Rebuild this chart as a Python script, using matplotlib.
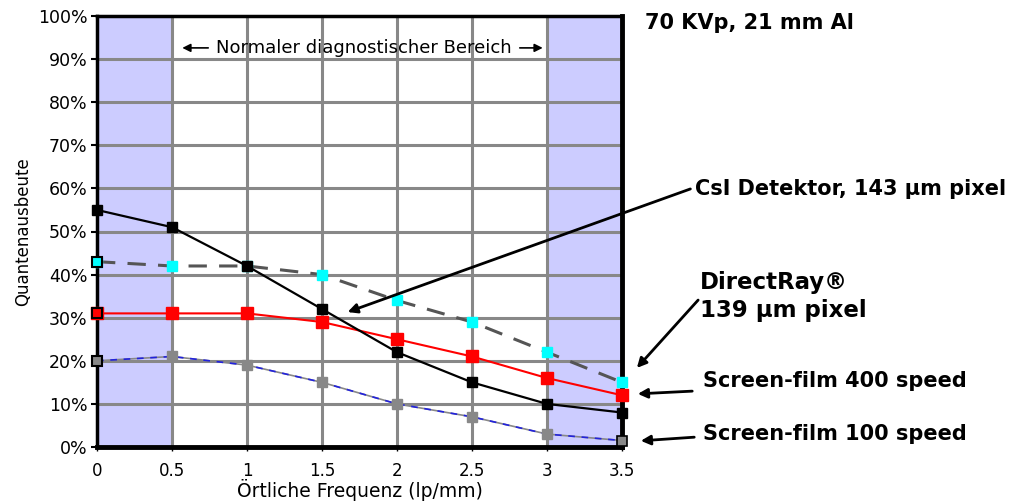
import matplotlib
matplotlib.use("Agg")
import matplotlib.pyplot as plt
from matplotlib.ticker import PercentFormatter

plt.rcParams['font.family'] = ['DejaVu Sans']

freq = [0, 0.5, 1, 1.5, 2, 2.5, 3, 3.5]
csi = [55, 51, 42, 32, 22, 15, 10, 8]
directray = [43, 42, 42, 40, 34, 29, 22, 15]
sf400 = [31, 31, 31, 29, 25, 21, 16, 12]
sf100 = [20, 21, 19, 15, 10, 7, 3, 1.5]

xticks = [0, 0.5, 1, 1.5, 2, 2.5, 3, 3.5]
xticklabels = ['0', '0.5', '1', '1.5', '2', '2.5', '3', '3.5']
yticks = list(range(0, 101, 10))

fig = plt.figure(figsize=(10.18, 5.03), dpi=100)
ax = fig.add_axes([97/1018, 56/503, 525/1018, 431/503])
ax.set_xlim(0, 3.5)
ax.set_ylim(0, 100)

ax.axvspan(0, 0.5, color='#ccccff', zorder=0)
ax.axvspan(3, 3.5, color='#ccccff', zorder=0)

for x in xticks[1:-1]:
    ax.axvline(x, color='#888888', lw=2.2, zorder=1)
for y in yticks[1:-1]:
    ax.axhline(y, color='#888888', lw=2.2, zorder=1)

ms = 7.5
# Screen-film 100
ax.plot(freq, sf100, color='#888888', lw=1.2, zorder=3)
ax.plot(freq, sf100, color='#2222dd', lw=1.2, ls=(0, (4, 4)), zorder=3)
ax.plot(freq[1:-1], sf100[1:-1], ls='none', marker='s', ms=ms, mfc='#888888', mec='#888888', zorder=4, clip_on=False)
ax.plot(freq[-1:], sf100[-1:], ls='none', marker='s', ms=6.5, mfc='#888888', mec='black', mew=1.2, zorder=4, clip_on=False)
ax.plot(freq[:1], sf100[:1], ls='none', marker='s', ms=ms, mfc='#888888', mec='black', mew=1.5, zorder=4, clip_on=False)

# Screen-film 400
ax.plot(freq, sf400, color='red', lw=1.5, zorder=3, marker='s', ms=8, mfc='red', mec='red', clip_on=False)
ax.plot(freq[:1], sf400[:1], ls='none', marker='s', ms=ms, mfc='red', mec='black', mew=1.5, zorder=4, clip_on=False)

# DirectRay
ax.plot(freq, directray, color='#555555', lw=2.2, ls=(0, (6, 4)), zorder=3)
ax.plot(freq, directray, ls='none', marker='s', ms=ms, mfc='cyan', mec='cyan', zorder=4, clip_on=False)
ax.plot(freq[:1], directray[:1], ls='none', marker='s', ms=ms, mfc='cyan', mec='black', mew=1.5, zorder=4, clip_on=False)

# CsI
ax.plot(freq, csi, color='black', lw=1.6, zorder=5, marker='s', ms=ms, mfc='black', mec='black', clip_on=False)

for s in ax.spines.values():
    s.set_linewidth(2.5)
    s.set_color('black')
ax.spines['right'].set_linewidth(3.5)
ax.spines['bottom'].set_linewidth(3.5)

ax.set_xticks(xticks)
ax.set_xticklabels(xticklabels, fontsize=12)
ax.set_yticks(yticks)
ax.yaxis.set_major_formatter(PercentFormatter(decimals=0))
ax.tick_params(axis='y', labelsize=12.5, length=4, width=1.5, direction='out', pad=3)
ax.tick_params(axis='x', length=3, width=1, direction='out', pad=8)
ax.set_xlabel('Örtliche Frequenz (lp/mm)', fontsize=13.5, labelpad=-1)
ax.set_ylabel('Quantenausbeute', fontsize=12, labelpad=4)

# Normal range annotation
ax.annotate('', xy=(0.55, 92.6), xytext=(0.76, 92.6),
            arrowprops=dict(arrowstyle='-|>', color='black', lw=1.2, mutation_scale=12))
ax.annotate('', xy=(2.99, 92.6), xytext=(2.8, 92.6),
            arrowprops=dict(arrowstyle='-|>', color='black', lw=1.2, mutation_scale=12))
ax.text(1.78, 92.6, 'Normaler diagnostischer Bereich', fontsize=13,
        ha='center', va='center', zorder=6)

# Right-side annotations (figure pixel coordinates)
def fx(px):
    return px / 1018
def fy(py):
    return 1 - py / 503

fig.text(fx(645), fy(23), '70 KVp, 21 mm Al', fontsize=15, fontweight='bold', va='center', ha='left')
fig.text(fx(695), fy(189), 'CsI Detektor, 143 µm pixel', fontsize=15, fontweight='bold', va='center', ha='left')
fig.text(fx(700), fy(283), 'DirectRay®', fontsize=16.5, fontweight='bold', va='center', ha='left')
fig.text(fx(700), fy(311), '139 µm pixel', fontsize=16.5, fontweight='bold', va='center', ha='left')
fig.text(fx(703), fy(381), 'Screen-film 400 speed', fontsize=15, fontweight='bold', va='center', ha='left')
fig.text(fx(703), fy(434), 'Screen-film 100 speed', fontsize=15, fontweight='bold', va='center', ha='left')

arrows = [
    ((693, 188), (345, 313)),
    ((700, 298), (635, 370)),
    ((695, 391), (635, 394)),
    ((697, 437), (638, 441)),
]
for (x0, y0), (x1, y1) in arrows:
    fig.add_artist(matplotlib.patches.FancyArrowPatch(
        (fx(x0), fy(y0)), (fx(x1), fy(y1)), transform=fig.transFigure,
        arrowstyle='-|>', mutation_scale=14, color='black', lw=2, zorder=10))

fig.savefig('out.png', dpi=100)
